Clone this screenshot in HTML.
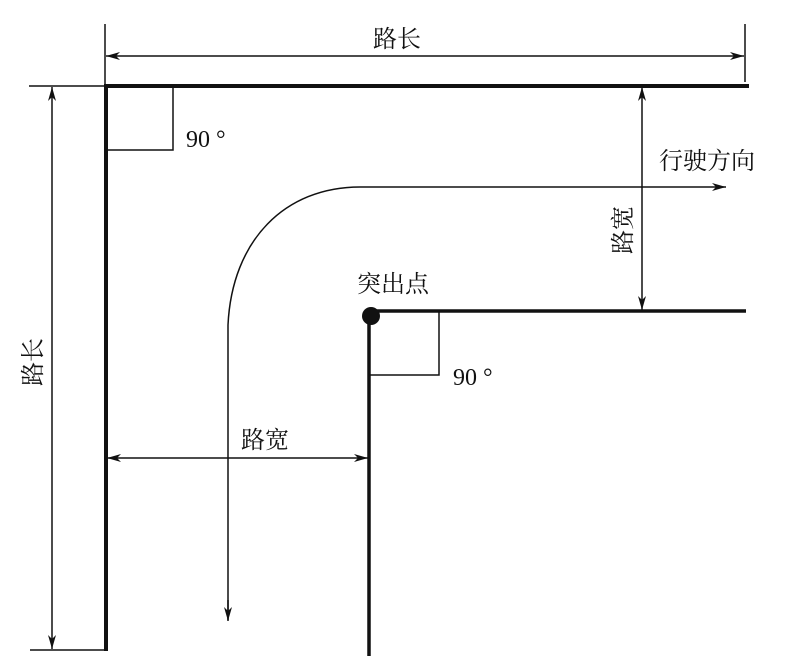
<!DOCTYPE html>
<html><head><meta charset="utf-8"><style>
html,body{margin:0;padding:0;background:#fff;}
svg{display:block}
text{font-family:"Liberation Serif","Noto Serif CJK SC",serif;fill:#111;}
</style></head><body>
<svg width="800" height="665" viewBox="0 0 800 665" xmlns="http://www.w3.org/2000/svg">
<defs>
<marker id="a" markerWidth="14" markerHeight="8" refX="14" refY="4" orient="auto" markerUnits="userSpaceOnUse">
<path d="M0,0 L14,4 L0,8 L4,4 Z" fill="#111"/></marker>
<marker id="b" markerWidth="14" markerHeight="8" refX="0" refY="4" orient="auto" markerUnits="userSpaceOnUse">
<path d="M14,0 L0,4 L14,8 L10,4 Z" fill="#111"/></marker>
</defs>
<g stroke="#111" fill="none">
<line x1="104" y1="86" x2="749" y2="86" stroke-width="4"/>
<line x1="106" y1="84" x2="106" y2="651" stroke-width="4"/>
<line x1="371" y1="311" x2="746" y2="311" stroke-width="3.5"/>
<line x1="369" y1="314" x2="369" y2="656" stroke-width="3.5"/>
<polyline points="173,86 173,150 106,150" stroke-width="1.5"/>
<polyline points="439,311 439,375 369,375" stroke-width="1.5"/>
<line x1="105" y1="24" x2="105" y2="86" stroke-width="1.5"/>
<line x1="745" y1="24" x2="745" y2="82" stroke-width="1.5"/>
<line x1="106" y1="56" x2="744" y2="56" stroke-width="1.5" marker-start="url(#b)" marker-end="url(#a)"/>
<line x1="29" y1="86" x2="106" y2="86" stroke-width="1.5"/>
<line x1="30" y1="650" x2="106" y2="650" stroke-width="1.5"/>
<line x1="52" y1="87" x2="52" y2="649" stroke-width="1.5" marker-start="url(#b)" marker-end="url(#a)"/>
<line x1="642" y1="87" x2="642" y2="310" stroke-width="1.5" marker-start="url(#b)" marker-end="url(#a)"/>
<line x1="107" y1="458" x2="368" y2="458" stroke-width="1.5" marker-start="url(#b)" marker-end="url(#a)"/>
<path d="M228,620 L228,325 C232,240 285,187 360,187 L726,187" stroke-width="1.5" marker-end="url(#a)"/>
<line x1="228" y1="600" x2="228" y2="621" stroke-width="1.5" marker-end="url(#a)"/>
</g>
<circle cx="371" cy="316" r="9" fill="#111"/>
<text x="397" y="47" font-size="24" text-anchor="middle">路长</text>
<text x="186" y="147" font-size="24">90 °</text>
<text x="453" y="385" font-size="24">90 °</text>
<text x="659" y="169" font-size="24">行驶方向</text>
<text x="357" y="292" font-size="24">突出点</text>
<text x="265" y="448" font-size="24" text-anchor="middle">路宽</text>
<text transform="translate(631,230) rotate(-90)" font-size="24" text-anchor="middle">路宽</text>
<text transform="translate(41,362) rotate(-90)" font-size="24" text-anchor="middle">路长</text>
</svg>
</body></html>
